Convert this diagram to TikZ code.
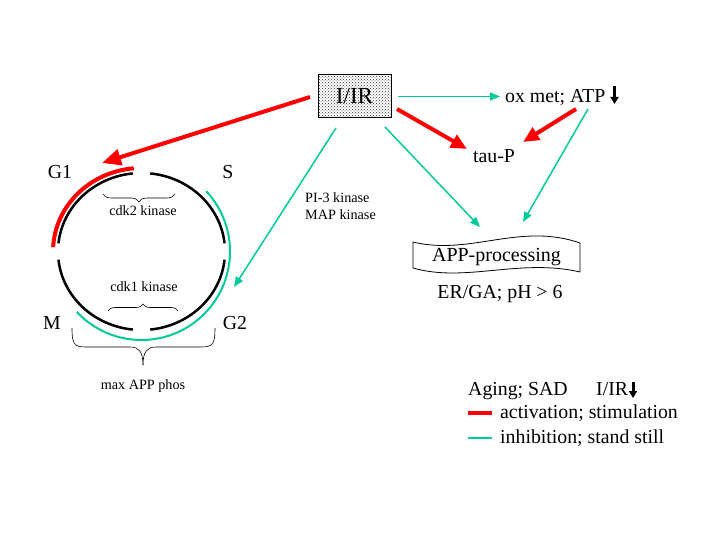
\documentclass[tikz,border=0pt]{standalone}
\usepackage{fontspec}
\setmainfont{Liberation Serif}
\usetikzlibrary{arrows.meta,patterns,decorations.pathreplacing,calc}
\definecolor{tealc}{RGB}{0,204,153}
\begin{document}
\begin{tikzpicture}[x=1pt,y=-1pt,
  lbl/.style={inner sep=0pt, font=\fontsize{19.8}{23}\selectfont},
  smalllbl/.style={inner sep=0pt, font=\fontsize{14.2}{16}\selectfont},
  redarr/.style={draw=red, line width=4pt, -{Triangle[length=16pt,width=14pt]}},
  bigredarr/.style={draw=red, line width=4pt, -{Triangle[length=19pt,width=16pt]}},
  tealarr/.style={draw=tealc, line width=1.5pt, -{Triangle[length=10pt,width=8pt]}},
  cyc/.style={draw=black, line width=2.5pt},
  bracestyle/.style={draw=black, line width=0.6pt},
  downarr/.style={draw=black, line width=3pt, -{Triangle[length=7pt,width=8pt]}}
]
\useasboundingbox (0,0) rectangle (720,540);

% cell cycle
\coordinate (C) at (141.5,251.5);
\foreach \a/\b in {6/84, 96/174, 186/264, 276/354}
  \draw[cyc] ($(C)+(\a:83.5 and 78.5)$) arc[start angle=\a, end angle=\b, x radius=83.5, y radius=78.5];
\draw[draw=red, line width=4pt] ($(C)+(183:88.5 and 83.5)$) arc[start angle=183, end angle=265, x radius=88.5, y radius=83.5];
\draw[draw=tealc, line width=2pt] ($(C)+(-43:88.5 and 88.5)$) arc[start angle=-43, end angle=137, x radius=88.5, y radius=88.5];

\node[lbl] (g1) at (60,172) {G1};
\node[lbl] (s) at (228,172) {S};
\node[lbl] (m) at (52,323) {M};
\node[lbl] (g2) at (235,323) {G2};

\draw[bracestyle, decorate, decoration={brace, amplitude=8pt}] (175,194) -- (103,194);
\node[smalllbl] (cdk2) at (143,211) {cdk2 kinase};
\draw[bracestyle, decorate, decoration={brace, amplitude=7pt}] (108,311) -- (178,311);
\node[smalllbl] (cdk1) at (144,287) {cdk1 kinase};

\draw[bracestyle] (72,328) .. controls (72,344) and (74,347) .. (86,347) -- (130,347) .. controls (139,347) and (143,352) .. (143,365);
\draw[bracestyle] (215,328) .. controls (215,344) and (213,347) .. (201,347) -- (156,347) .. controls (147,347) and (143,352) .. (143,365);
\node[smalllbl] (maxapp) at (143,386) {max APP phos};

% I/IR box
\node[draw, line width=1pt, minimum width=73pt, minimum height=43pt, inner sep=0pt,
      preaction={fill=white}, pattern=crosshatch dots, pattern color=black!80, font=\fontsize{23}{26}\selectfont] (ir) at (354.5,96.5) {I/IR};

\node[lbl, anchor=base west] (ox) at (505,103) {ox met; ATP};
\draw[downarr] (614.5,86) -- (614.5,104);

\node[lbl] (tau) at (494,156) {tau-P};

\node[smalllbl, anchor=west, align=left] (pi3) at (305,198) {PI-3 kinase};
\node[smalllbl, anchor=west, align=left] (map) at (305,215) {MAP kinase};

% APP processing tape
\draw[line width=0.8pt, fill=white] (413,242) .. controls (470,256) and (520,222) .. (580,243)
   -- (580,272) .. controls (520,258) and (465,283) .. (413,268) -- cycle;
\node[inner sep=0pt, font=\fontsize{20}{24}\selectfont] (app) at (496.5,257) {APP-processing};
\node[lbl] (er) at (500,294) {ER/GA; pH > 6};

% connector end points
\coordinate (irw) at (310,97);
\coordinate (g1tip) at (102,163);
\coordinate (irse) at (397,109);
\coordinate (tautipl) at (467,149);
\coordinate (atps) at (576,109);
\coordinate (tautipr) at (523,142);
\coordinate (irsw) at (336,128);
\coordinate (g2tip) at (234,287);
\coordinate (irs) at (385,127);
\coordinate (apptipl) at (480,227);
\coordinate (oxs) at (588,109);
\coordinate (apptipr) at (523,222);

\draw[bigredarr] (irw) -- (g1tip);
\draw[tealarr, shorten <=6pt, shorten >=5pt] (ir.east) -- (ox.west |- ir.east);
\draw[redarr] (irse) -- (tautipl);
\draw[redarr] (atps) -- (tautipr);
\draw[tealarr] (irsw) -- (g2tip);
\draw[tealarr] (irs) -- (apptipl);
\draw[tealarr] (oxs) -- (apptipr);

% legend
\node[lbl, anchor=base west] (aging) at (468,395) {Aging; SAD};
\node[lbl, anchor=base west] (irleg) at (596,395) {I/IR};
\draw[downarr] (633,382) -- (633,398);
\coordinate (lr1) at (468,413);
\coordinate (lr2) at (492,413);
\draw[draw=red, line width=4pt] (lr1) -- (lr2);
\node[lbl, anchor=base west] (act) at (500,418) {activation; stimulation};
\coordinate (lt1) at (468,438);
\coordinate (lt2) at (492,438);
\draw[draw=tealc, line width=2pt] (lt1) -- (lt2);
\node[lbl, anchor=base west] (inh) at (500,443) {inhibition; stand still};
\end{tikzpicture}
\end{document}
